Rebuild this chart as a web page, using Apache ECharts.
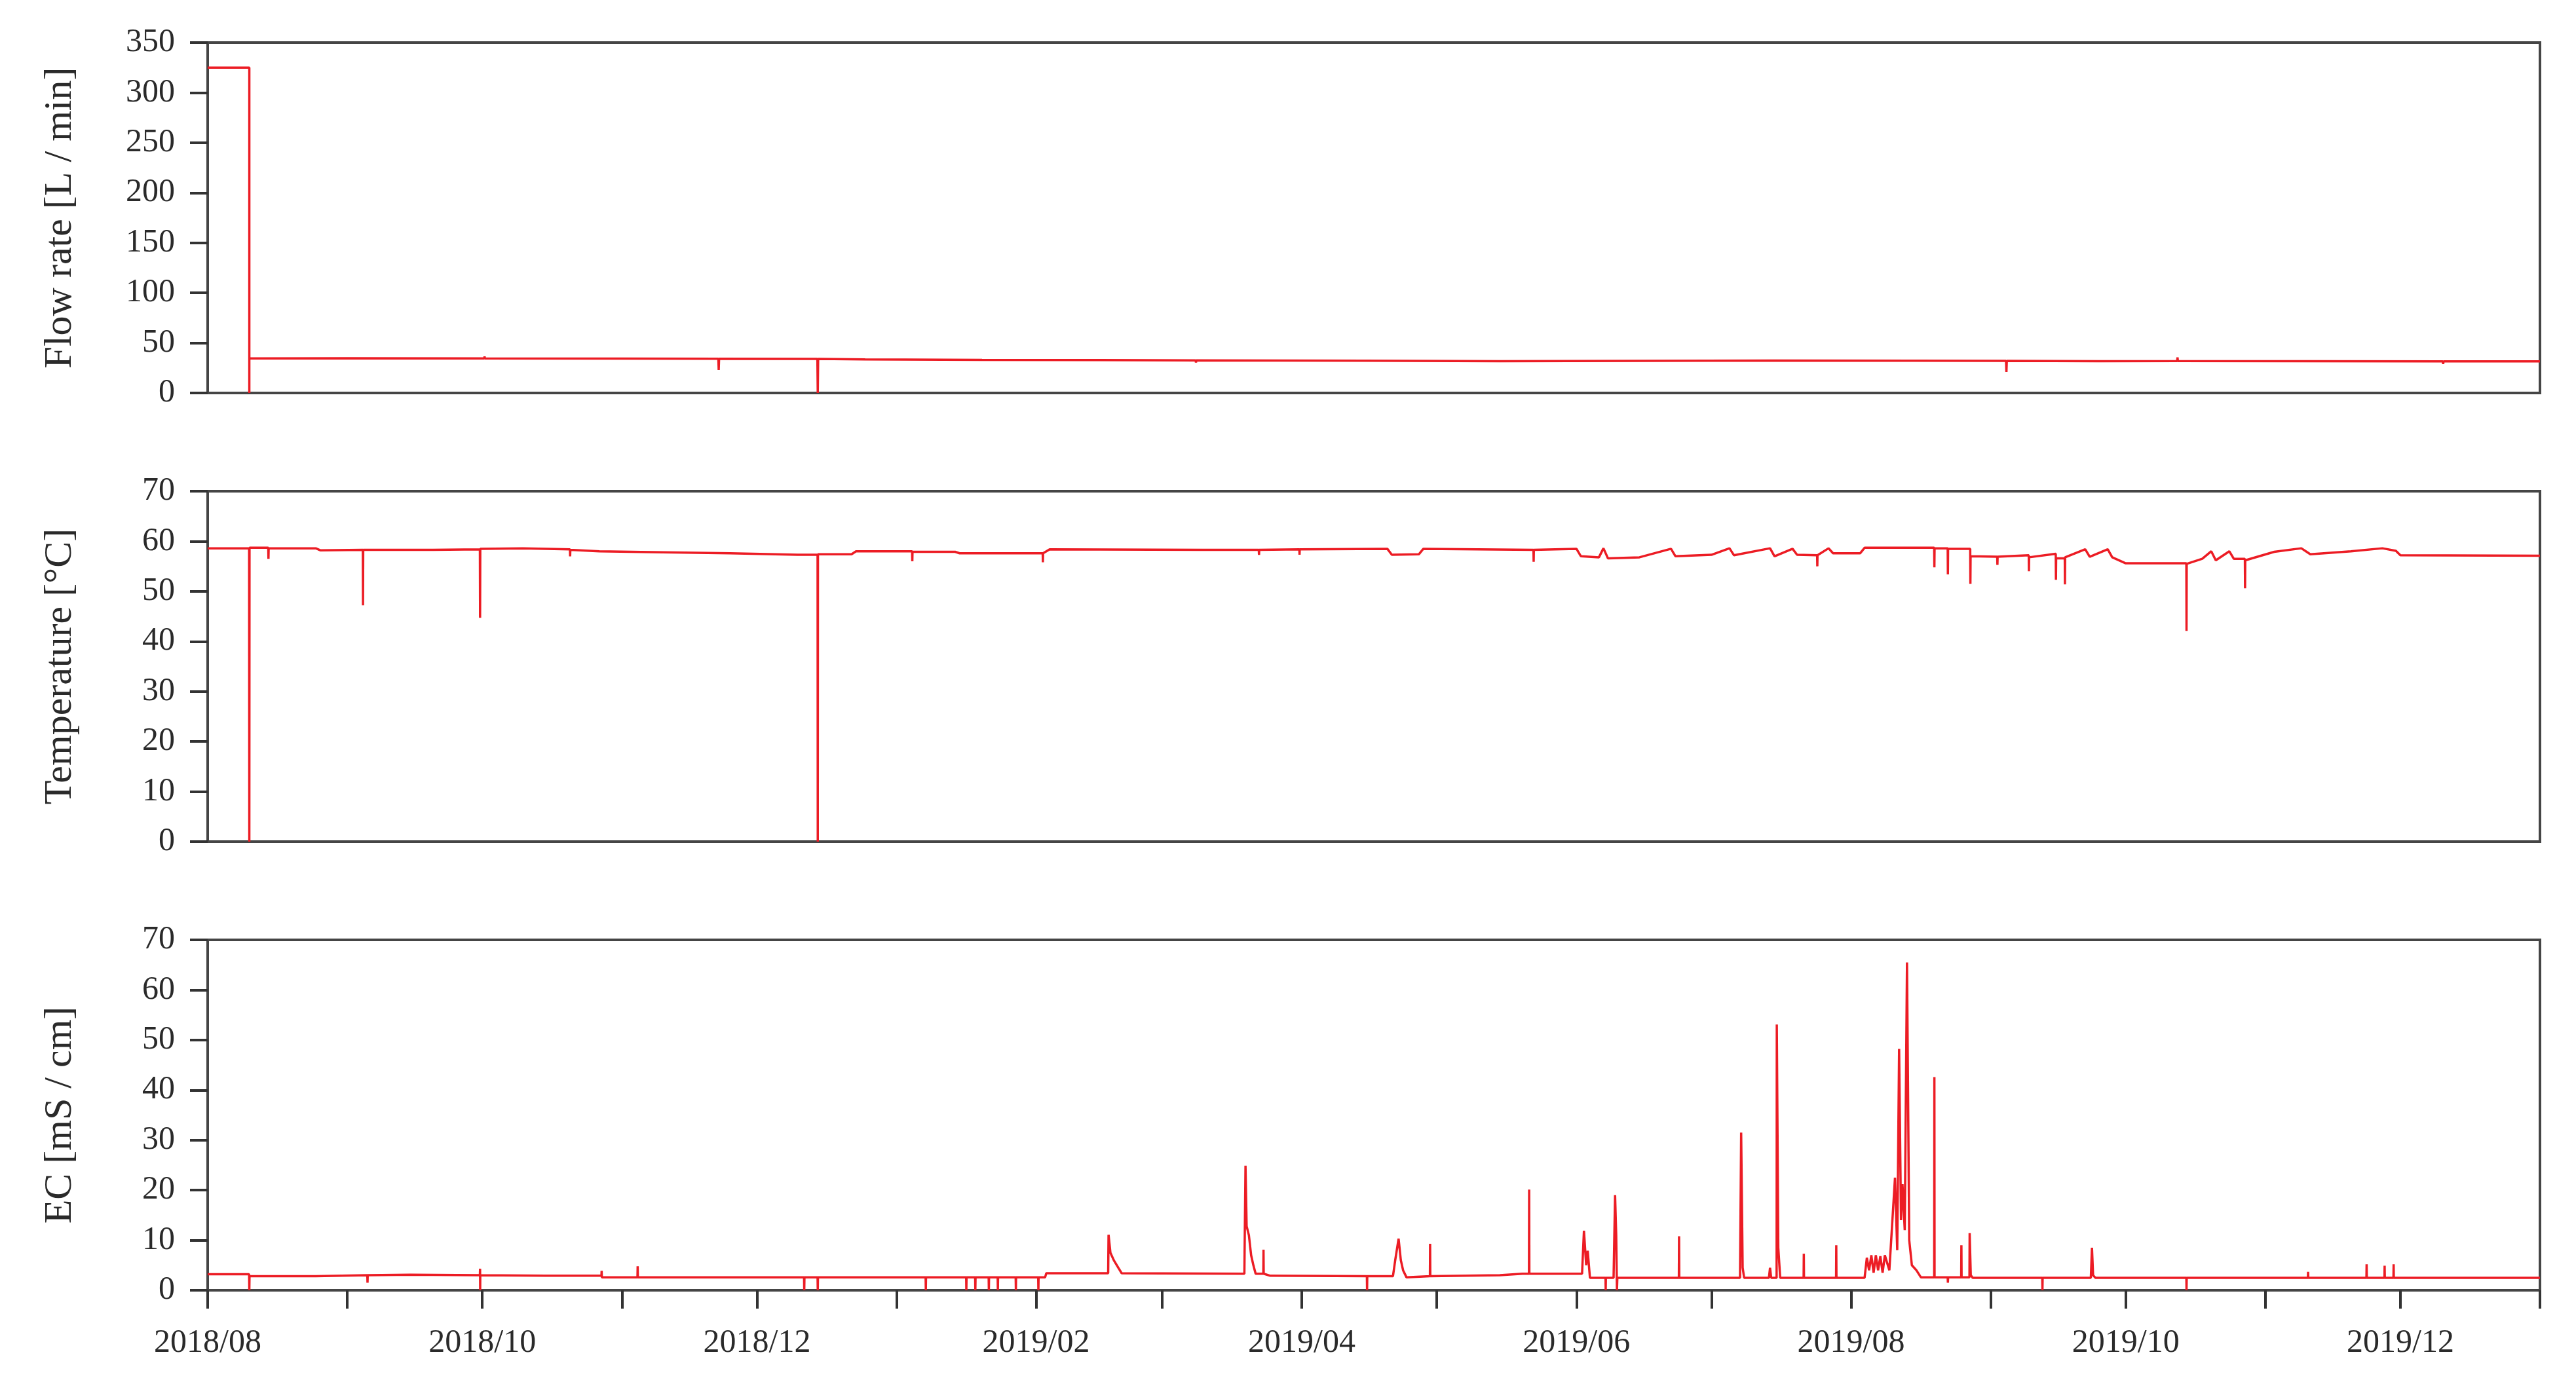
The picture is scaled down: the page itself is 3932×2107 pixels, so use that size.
<!DOCTYPE html>
<html>
<head>
<meta charset="utf-8">
<title>Flow rate / Temperature / EC</title>
<script src="https://cdn.jsdelivr.net/npm/echarts@6.0.0/dist/echarts.min.js"></script>
<style>
html, body { margin: 0; padding: 0; background: #fff; }
#main { width: 3932px; height: 2107px; }
</style>
</head>
<body>
<div id="main"></div>
<script>
// ---------------- data ----------------
var flowTime = ['2018-08-01 00:00', '2018-08-10 06:00', '2018-08-10 06:00', '2018-08-10 06:00', '2018-09-01 00:00',
	'2018-10-01 10:00', '2018-10-01 12:00', '2018-10-01 14:00', '2018-11-01 00:00',
	'2018-11-22 10:00', '2018-11-22 12:00', '2018-11-22 14:00',
	'2018-12-14 10:00', '2018-12-14 12:00', '2018-12-14 14:00', '2018-12-25 00:00',
	'2019-01-20 00:00', '2019-02-15 00:00', '2019-03-08 10:00', '2019-03-08 12:00', '2019-03-08 14:00',
	'2019-04-15 00:00', '2019-05-15 00:00', '2019-06-15 00:00', '2019-07-15 00:00', '2019-08-15 00:00',
	'2019-09-04 10:00', '2019-09-04 12:00', '2019-09-04 14:00', '2019-09-25 00:00',
	'2019-10-12 10:00', '2019-10-12 12:00', '2019-10-12 14:00', '2019-11-10 00:00',
	'2019-12-10 10:00', '2019-12-10 12:00', '2019-12-10 14:00', '2020-01-01 00:00'];
var flowValue = [325, 325, 0, 34.5, 34.6,
	34.5, 36.5, 34.5, 34.3,
	34.2, 23, 34.2,
	34, 0, 34, 33.6,
	33, 32.8, 32.6, 30.5, 32.6,
	32.2, 31.8, 32, 32.4, 32.2,
	32.1, 21, 32.1, 31.8,
	31.9, 35.5, 31.9, 31.7,
	31.5, 29, 31.5, 31.5];

var tempTime = ['2018-08-01 00:00', '2018-08-10 05:00', '2018-08-10 06:00', '2018-08-10 07:00',
	'2018-08-14 11:00', '2018-08-14 12:00', '2018-08-14 13:00', '2018-08-25 00:00', '2018-08-26 00:00',
	'2018-09-04 11:00', '2018-09-04 12:00', '2018-09-04 13:00', '2018-09-20 00:00',
	'2018-09-30 11:00', '2018-09-30 12:00', '2018-09-30 13:00', '2018-10-10 00:00',
	'2018-10-20 11:00', '2018-10-20 12:00', '2018-10-20 13:00', '2018-10-27 00:00',
	'2018-11-10 00:00', '2018-11-25 00:00', '2018-12-10 00:00',
	'2018-12-14 11:00', '2018-12-14 12:00', '2018-12-14 13:00', '2018-12-22 00:00', '2018-12-23 00:00',
	'2019-01-04 11:00', '2019-01-04 12:00', '2019-01-04 13:00', '2019-01-14 00:00', '2019-01-15 00:00',
	'2019-02-02 11:00', '2019-02-02 12:00', '2019-02-02 13:00', '2019-02-04 00:00', '2019-03-10 00:00',
	'2019-03-22 11:00', '2019-03-22 12:00', '2019-03-22 13:00',
	'2019-03-31 11:00', '2019-03-31 12:00', '2019-03-31 13:00',
	'2019-04-20 00:00', '2019-04-21 00:00', '2019-04-27 00:00', '2019-04-28 00:00', '2019-05-10 00:00',
	'2019-05-22 11:00', '2019-05-22 12:00', '2019-05-22 13:00',
	'2019-06-01 00:00', '2019-06-02 00:00', '2019-06-06 00:00', '2019-06-07 00:00', '2019-06-08 00:00',
	'2019-06-15 00:00', '2019-06-22 00:00', '2019-06-23 00:00', '2019-07-01 00:00', '2019-07-05 00:00',
	'2019-07-06 00:00', '2019-07-14 00:00', '2019-07-15 00:00', '2019-07-19 00:00', '2019-07-20 00:00',
	'2019-07-24 11:00', '2019-07-24 12:00', '2019-07-24 13:00', '2019-07-27 00:00', '2019-07-28 00:00',
	'2019-08-03 00:00', '2019-08-04 00:00',
	'2019-08-19 11:00', '2019-08-19 12:00', '2019-08-19 13:00',
	'2019-08-22 11:00', '2019-08-22 12:00', '2019-08-22 13:00',
	'2019-08-27 11:00', '2019-08-27 12:00', '2019-08-27 13:00',
	'2019-09-02 11:00', '2019-09-02 12:00', '2019-09-02 13:00',
	'2019-09-09 11:00', '2019-09-09 12:00', '2019-09-09 13:00',
	'2019-09-15 11:00', '2019-09-15 12:00', '2019-09-15 13:00',
	'2019-09-17 11:00', '2019-09-17 12:00', '2019-09-17 13:00',
	'2019-09-22 00:00', '2019-09-23 00:00', '2019-09-27 00:00', '2019-09-28 00:00', '2019-10-01 00:00',
	'2019-10-14 11:00', '2019-10-14 12:00', '2019-10-14 13:00',
	'2019-10-18 00:00', '2019-10-20 00:00', '2019-10-21 00:00', '2019-10-24 00:00', '2019-10-25 00:00',
	'2019-10-27 11:00', '2019-10-27 12:00', '2019-10-27 13:00',
	'2019-11-03 00:00', '2019-11-09 00:00', '2019-11-11 00:00', '2019-11-20 00:00', '2019-11-27 00:00',
	'2019-11-30 00:00', '2019-12-01 00:00', '2020-01-01 00:00'];
var tempValue = [58.6, 58.6, 0, 58.7,
	58.7, 56.5, 58.6, 58.6, 58.2,
	58.3, 47.2, 58.3, 58.3,
	58.4, 44.7, 58.5, 58.6,
	58.4, 57, 58.3, 58.0,
	57.8, 57.6, 57.3,
	57.3, 0, 57.4, 57.4, 58.0,
	58.0, 56.0, 57.9, 57.9, 57.6,
	57.6, 55.8, 57.6, 58.4, 58.3,
	58.3, 57.3, 58.3,
	58.4, 57.3, 58.4,
	58.5, 57.3, 57.4, 58.5, 58.4,
	58.3, 55.9, 58.3,
	58.5, 57.0, 56.8, 58.6, 56.6,
	56.8, 58.5, 57.0, 57.3, 58.6,
	57.2, 58.6, 57.0, 58.5, 57.3,
	57.2, 55.0, 57.2, 58.6, 57.6,
	57.6, 58.7,
	58.7, 54.8, 58.6,
	58.6, 53.4, 58.5,
	58.5, 51.5, 57.0,
	56.9, 55.3, 56.9,
	57.2, 54.0, 56.8,
	57.5, 52.3, 56.6,
	56.6, 51.4, 56.8,
	58.4, 56.9, 58.4, 56.8, 55.6,
	55.6, 42.1, 55.5,
	56.5, 58.0, 56.2, 58.0, 56.5,
	56.5, 50.6, 56.2,
	57.9, 58.6, 57.4, 58.0, 58.6,
	58.1, 57.2, 57.1];

var ecTime = ['2018-08-01 00:00', '2018-08-10 05:00', '2018-08-10 06:00', '2018-08-10 07:00', '2018-08-25 00:00',
	'2018-09-05 11:00', '2018-09-05 12:00', '2018-09-05 13:00', '2018-09-15 00:00',
	'2018-09-30 11:00', '2018-09-30 12:00', '2018-09-30 12:30', '2018-09-30 13:00', '2018-10-15 00:00',
	'2018-10-27 11:00', '2018-10-27 12:00', '2018-10-27 13:00',
	'2018-11-04 11:00', '2018-11-04 12:00', '2018-11-04 13:00',
	'2018-12-11 11:00', '2018-12-11 12:00', '2018-12-11 13:00',
	'2018-12-14 11:00', '2018-12-14 12:00', '2018-12-14 13:00',
	'2019-01-07 11:00', '2019-01-07 12:00', '2019-01-07 13:00',
	'2019-01-16 11:00', '2019-01-16 12:00', '2019-01-16 13:00',
	'2019-01-18 11:00', '2019-01-18 12:00', '2019-01-18 13:00',
	'2019-01-21 11:00', '2019-01-21 12:00', '2019-01-21 13:00',
	'2019-01-23 11:00', '2019-01-23 12:00', '2019-01-23 13:00',
	'2019-01-27 11:00', '2019-01-27 12:00', '2019-01-27 13:00',
	'2019-02-01 11:00', '2019-02-01 12:00', '2019-02-01 13:00',
	'2019-02-03 00:00', '2019-02-03 06:00',
	'2019-02-17 00:00', '2019-02-17 02:00', '2019-02-17 12:00', '2019-02-18 06:00', '2019-02-19 06:00', '2019-02-20 00:00',
	'2019-03-19 06:00', '2019-03-19 12:00', '2019-03-19 18:00', '2019-03-20 06:00', '2019-03-20 18:00',
	'2019-03-21 06:00', '2019-03-21 18:00',
	'2019-03-23 11:00', '2019-03-23 12:00', '2019-03-23 13:00', '2019-03-25 00:00',
	'2019-04-15 11:00', '2019-04-15 12:00', '2019-04-15 13:00',
	'2019-04-21 06:00', '2019-04-21 18:00', '2019-04-22 12:00', '2019-04-23 00:00', '2019-04-23 12:00', '2019-04-24 06:00',
	'2019-04-29 11:00', '2019-04-29 12:00', '2019-04-29 13:00',
	'2019-05-15 00:00', '2019-05-20 00:00',
	'2019-05-21 11:00', '2019-05-21 12:00', '2019-05-21 13:00',
	'2019-06-02 06:00', '2019-06-02 16:00', '2019-06-03 04:00', '2019-06-03 12:00', '2019-06-04 00:00',
	'2019-06-07 11:00', '2019-06-07 12:00', '2019-06-07 13:00',
	'2019-06-09 06:00', '2019-06-09 14:00', '2019-06-09 20:00', '2019-06-10 00:00', '2019-06-10 02:00',
	'2019-06-23 18:00', '2019-06-23 19:00', '2019-06-23 20:00',
	'2019-07-07 08:00', '2019-07-07 14:00', '2019-07-07 22:00', '2019-07-08 06:00',
	'2019-07-13 18:00', '2019-07-14 00:00', '2019-07-14 06:00',
	'2019-07-15 11:00', '2019-07-15 12:00', '2019-07-15 20:00', '2019-07-16 06:00',
	'2019-07-21 11:00', '2019-07-21 12:00', '2019-07-21 13:00',
	'2019-07-28 16:00', '2019-07-28 17:00', '2019-07-28 18:00',
	'2019-08-04 00:00', '2019-08-04 12:00', '2019-08-05 00:00', '2019-08-05 12:00', '2019-08-06 00:00',
	'2019-08-06 12:00', '2019-08-07 00:00', '2019-08-07 12:00', '2019-08-08 00:00', '2019-08-08 12:00',
	'2019-08-09 12:00', '2019-08-10 18:00', '2019-08-11 06:00', '2019-08-11 16:00', '2019-08-12 02:00',
	'2019-08-12 10:00', '2019-08-12 22:00', '2019-08-13 10:00', '2019-08-13 22:00', '2019-08-14 12:00',
	'2019-08-15 12:00', '2019-08-16 12:00',
	'2019-08-19 11:00', '2019-08-19 12:00', '2019-08-19 13:00',
	'2019-08-22 11:00', '2019-08-22 12:00', '2019-08-22 13:00',
	'2019-08-25 11:00', '2019-08-25 12:00', '2019-08-25 13:00',
	'2019-08-27 07:00', '2019-08-27 08:00', '2019-08-27 14:00', '2019-08-28 00:00',
	'2019-09-12 11:00', '2019-09-12 12:00', '2019-09-12 13:00',
	'2019-09-23 06:00', '2019-09-23 12:00', '2019-09-23 18:00', '2019-09-24 06:00',
	'2019-10-14 11:00', '2019-10-14 12:00', '2019-10-14 13:00',
	'2019-11-10 11:00', '2019-11-10 12:00', '2019-11-10 13:00',
	'2019-11-23 11:00', '2019-11-23 12:00', '2019-11-23 13:00',
	'2019-11-27 11:00', '2019-11-27 12:00', '2019-11-27 13:00',
	'2019-11-29 11:00', '2019-11-29 12:00', '2019-11-29 13:00',
	'2020-01-01 00:00'];
var ecValue = [3.2, 3.2, 0, 2.8, 2.8,
	3.0, 1.5, 3.0, 3.1,
	3.0, 4.3, 0, 3.0, 2.9,
	2.9, 3.9, 2.6,
	2.6, 4.8, 2.6,
	2.6, 0, 2.6,
	2.6, 0, 2.6,
	2.6, 0, 2.6,
	2.6, 0, 2.6,
	2.6, 0, 2.6,
	2.6, 0, 2.6,
	2.6, 0, 2.6,
	2.6, 0, 2.6,
	2.6, 0, 2.6,
	2.6, 3.4,
	3.4, 11.1, 7.5, 6, 4.5, 3.4,
	3.3, 24.9, 12.8, 11, 7,
	5, 3.3,
	3.3, 8.1, 3.3, 2.9,
	2.8, 0, 2.8,
	2.8, 6, 10.3, 6, 4, 2.6,
	2.8, 9.3, 2.8,
	3.0, 3.3,
	3.3, 20.1, 3.3,
	3.3, 11.9, 5, 7.9, 2.5,
	2.5, 0, 2.5,
	2.5, 19, 11, 0, 2.5,
	2.5, 10.8, 2.5,
	2.5, 31.5, 4.5, 2.5,
	2.5, 4.5, 2.5,
	2.5, 53.1, 8.5, 2.5,
	2.5, 7.3, 2.5,
	2.5, 9, 2.5,
	2.5, 6.5, 4, 7, 3.5,
	7, 4, 6.8, 3.5, 7,
	4, 22.5, 8, 48.2, 14,
	21.2, 12, 65.5, 10, 5,
	4, 2.6,
	2.6, 42.6, 2.6,
	2.6, 1.5, 2.6,
	2.6, 9, 2.6,
	2.6, 11.4, 3, 2.5,
	2.5, 0, 2.5,
	2.5, 8.5, 3, 2.5,
	2.5, 0, 2.5,
	2.5, 3.7, 2.5,
	2.5, 5.2, 2.5,
	2.5, 4.9, 2.5,
	2.5, 5.2, 2.5,
	2.5];

var panelNames = ['Flow rate [L / min]', 'Temperature [\u00b0C]', 'EC [mS / cm]'];
var panelMax = [350, 70, 70];
var panelStep = [50, 10, 10];

// ---------------- layout ----------------
var FONT = '"Liberation Serif", "DejaVu Serif", serif';
var AXIS_COLOR = '#454545';
var LINE_COLOR = '#ec1c24';
var gridTops = [65, 750, 1435];
var gridHeight = 535;

function zip(t, v) {
	var out = [];
	for(var i = 0; i < t.length; i++) {
		out.push([t[i], v[i]]);
	}
	return out;
}

function monthLabel(val) {
	var d = new Date(val);
	var m = d.getMonth() + 1;
	if(m % 2 == 0) {
		return d.getFullYear() + '/' + (m < 10 ? '0' + m : m);
	}
	return '';
}

var xMin = new Date(2018, 7, 1).getTime();
var xMax = new Date(2020, 0, 1).getTime();
var DAY = 86400000;

var grids = [], xAxes = [], yAxes = [], series = [];
var allData = [zip(flowTime, flowValue), zip(tempTime, tempValue), zip(ecTime, ecValue)];

for(var i = 0; i < 3; i++) {
	grids.push({
		left: 317,
		right: 55,
		top: gridTops[i],
		height: gridHeight,
		show: true,
		borderColor: AXIS_COLOR,
		borderWidth: 4,
		backgroundColor: 'transparent'
	});
	xAxes.push({
		type: 'time',
		gridIndex: i,
		min: xMin,
		max: xMax,
		minInterval: 28 * DAY,
		maxInterval: 31 * DAY,
		splitLine: { show: false },
		axisLine: { show: true, lineStyle: { color: AXIS_COLOR, width: 4 } },
		axisTick: { show: i == 2, inside: false, length: 28, lineStyle: { color: '#333', width: 4 } },
		axisLabel: {
			show: i == 2,
			showMinLabel: true,
			showMaxLabel: true,
			hideOverlap: false,
			margin: 56,
			fontFamily: FONT,
			fontSize: 50,
			color: '#2a2a2a',
			formatter: monthLabel
		}
	});
	yAxes.push({
		type: 'value',
		gridIndex: i,
		min: 0,
		max: panelMax[i],
		interval: panelStep[i],
		name: panelNames[i],
		nameLocation: 'middle',
		nameGap: 195,
		nameTextStyle: { fontFamily: FONT, fontSize: 60, color: '#2a2a2a' },
		splitLine: { show: false },
		axisLine: { show: true, lineStyle: { color: AXIS_COLOR, width: 4 } },
		axisTick: { show: true, inside: false, length: 27, lineStyle: { color: '#333', width: 4 } },
		axisLabel: { margin: 50, fontFamily: FONT, fontSize: 50, color: '#2a2a2a' }
	});
	series.push({
		type: 'line',
		xAxisIndex: i,
		yAxisIndex: i,
		data: allData[i],
		showSymbol: false,
		symbol: 'none',
		lineStyle: { color: LINE_COLOR, width: 3.5 },
		z: 1
	});
}

var chart = echarts.init(document.getElementById('main'), null, { renderer: 'canvas' });
chart.setOption({
	animation: false,
	backgroundColor: '#ffffff',
	grid: grids,
	xAxis: xAxes,
	yAxis: yAxes,
	series: series
});
</script>
</body>
</html>
